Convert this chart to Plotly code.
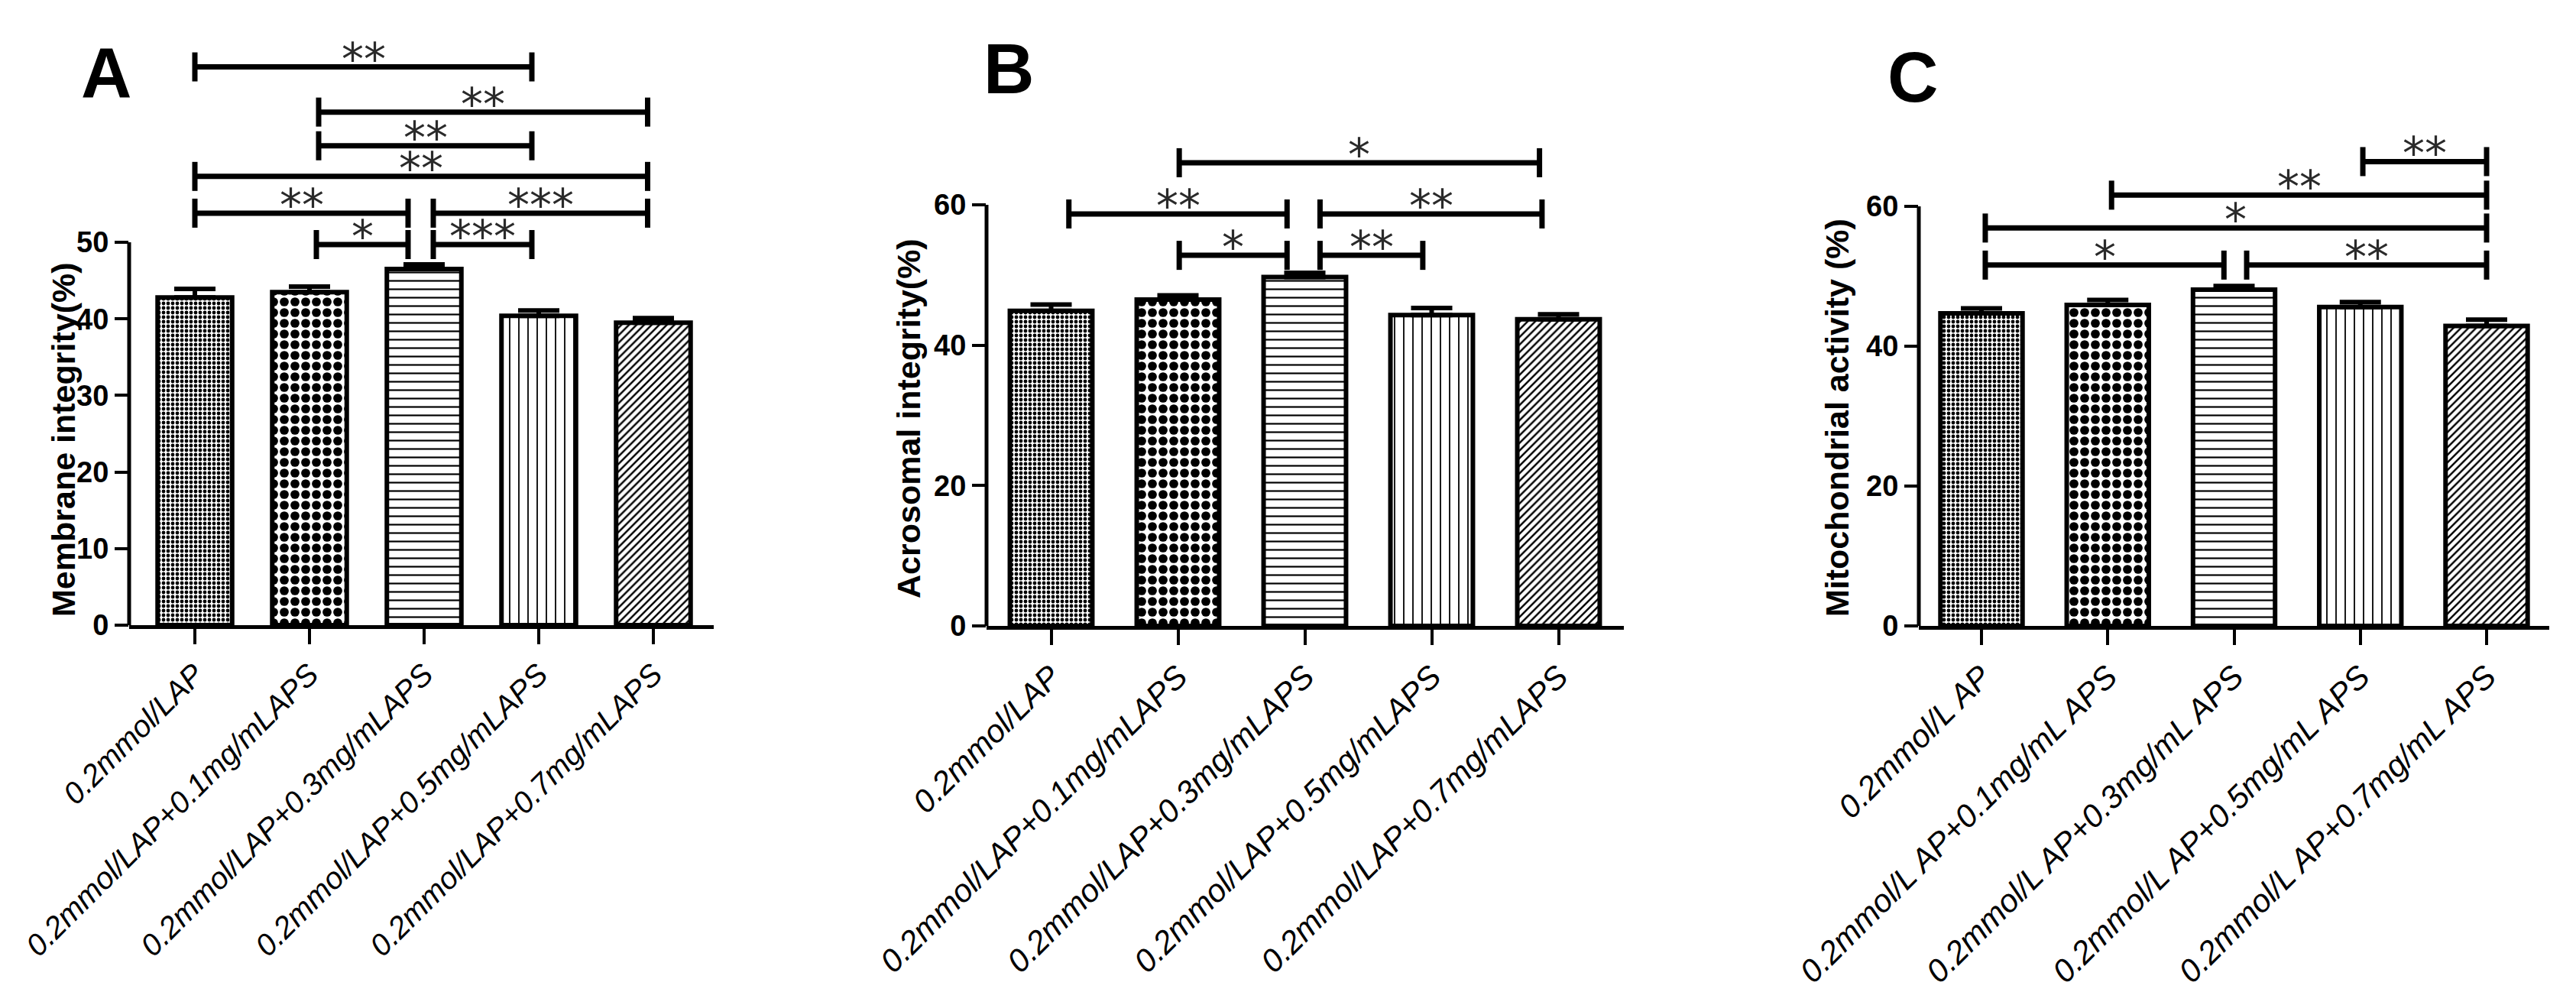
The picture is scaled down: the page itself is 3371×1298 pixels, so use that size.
import plotly.graph_objects as go

# ---------------- data ----------------
labels_A = ["0.2mmol/LAP", "0.2mmol/LAP+0.1mg/mLAPS", "0.2mmol/LAP+0.3mg/mLAPS",
            "0.2mmol/LAP+0.5mg/mLAPS", "0.2mmol/LAP+0.7mg/mLAPS"]
labels_B = ["0.2mmol/LAP", "0.2mmol/LAP+0.1mg/mLAPS", "0.2mmol/LAP+0.3mg/mLAPS",
            "0.2mmol/LAP+0.5mg/mLAPS", "0.2mmol/LAP+0.7mg/mLAPS"]
labels_C = ["0.2mmol/L AP", "0.2mmol/L AP+0.1mg/mL APS", "0.2mmol/L AP+0.3mg/mL APS",
            "0.2mmol/L AP+0.5mg/mL APS", "0.2mmol/L AP+0.7mg/mL APS"]

mean_A = [42.8, 43.5, 46.5, 40.4, 39.5]
sem_A = [1.1, 0.7, 0.6, 0.7, 0.6]
mean_B = [44.9, 46.5, 49.7, 44.3, 43.7]
sem_B = [0.9, 0.6, 0.6, 1.0, 0.7]
mean_C = [44.7, 45.9, 48.1, 45.6, 42.9]
sem_C = [0.7, 0.7, 0.5, 0.7, 0.9]

yticks_A = [0, 10, 20, 30, 40, 50]
yticks_B = [0, 20, 40, 60]
yticks_C = [0, 20, 40, 60]

titles = ["Membrane integrity(%)", "Acrosomal integrity(%)", "Mitochondrial activity (%)"]
panel_letters = ["A", "B", "C"]

# significance comparisons: (from group, to group, level, label)
sig_A = [(0.00, 2.94, 72.9, "**"), (1.08, 3.95, 67.0, "**"), (1.08, 2.94, 62.6, "**"),
         (0.00, 3.95, 58.6, "**"), (0.00, 1.86, 53.8, "**"), (2.08, 3.95, 53.8, "***"),
         (1.06, 1.86, 49.7, "*"), (2.08, 2.94, 49.7, "***")]
sig_B = [(1.01, 3.85, 66.0, "*"), (0.14, 1.86, 58.7, "**"), (2.12, 3.87, 58.7, "**"),
         (1.01, 1.86, 52.8, "*"), (2.12, 2.93, 52.8, "**")]
sig_C = [(3.02, 4.00, 66.4, "**"), (1.03, 4.00, 61.6, "**"), (0.03, 4.00, 56.9, "*"),
         (0.03, 1.92, 51.6, "*"), (2.10, 4.00, 51.6, "**")]

# ---------------- layout geometry (pixels) ----------------
W, H = 3371, 1298
TOP = 10
geo = [
    dict(xl=169, xr=934, i0=255, step=150.0, py0=818, ptop=317, vtop=50,
         title_xy=(83, 575), letter_xy=(139, 95), xfont=40),
    dict(xl=1291, xr=2125, i0=1375.5, step=166.0, py0=819, ptop=268, vtop=60,
         title_xy=(1189, 548), letter_xy=(1320, 90), xfont=42),
    dict(xl=2511, xr=3336, i0=2593, step=165.25, py0=819, ptop=270, vtop=60,
         title_xy=(2404, 547), letter_xy=(2503, 101), xfont=42),
]

means = [mean_A, mean_B, mean_C]
sems = [sem_A, sem_B, sem_C]
labels = [labels_A, labels_B, labels_C]
yticks = [yticks_A, yticks_B, yticks_C]
sigs = [sig_A, sig_B, sig_C]

FONT = "Liberation Sans, Arial, sans-serif"
NARROW = "Liberation Sans Narrow, Arial Narrow, Liberation Sans, Arial, sans-serif"
STAR = "DejaVu Sans, Liberation Sans, sans-serif"

pattern_shapes = [".", ".", "-", "|", "/"]
pattern_sizes = [6, 14, 11, 12, 7]
pattern_solid = [0.5, 0.55, 0.2, 0.15, 0.35]

fig = go.Figure()
shapes = []
annotations = []

for k in range(3):
    g = geo[k]
    n = "" if k == 0 else str(k + 1)
    xa, ya = "x" + n, "y" + n
    cats = list(range(len(means[k])))
    fig.add_trace(go.Bar(
        x=cats, y=means[k], width=0.65,
        xaxis=xa, yaxis=ya,
        marker=dict(color="white",
                    line=dict(color="black", width=6),
                    pattern=dict(shape=pattern_shapes, size=pattern_sizes,
                                 solidity=pattern_solid, fgcolor="black",
                                 bgcolor="white", fillmode="replace")),
        error_y=dict(type="data", symmetric=False, array=sems[k],
                     arrayminus=[0] * len(sems[k]), thickness=6, width=27,
                     color="black"),
        showlegend=False, hoverinfo="skip",
    ))
    pxu = (g["py0"] - g["ptop"]) / g["vtop"]
    ymax = (g["py0"] - TOP) / pxu
    xlo = (g["xl"] - g["i0"]) / g["step"]
    xhi = (g["xr"] - g["i0"]) / g["step"]
    xkey = "xaxis" + n
    ykey = "yaxis" + n
    fig.update_layout(**{
        xkey: dict(domain=[g["xl"] / W, g["xr"] / W], range=[xlo, xhi],
                   anchor=ya, showline=True, linewidth=5, linecolor="black",
                   ticks="outside", ticklen=20, tickwidth=4, tickcolor="black",
                   tickvals=cats, ticktext=labels[k], tickangle=-45,
                   tickfont=dict(family=FONT, size=g["xfont"], style="italic",
                                 color="black"),
                   showgrid=False, zeroline=False, fixedrange=True, automargin=False),
        ykey: dict(domain=[1 - g["py0"] / H, 1 - TOP / H], range=[0, ymax],
                   anchor=xa, showline=False, ticks="outside", ticklen=18,
                   tickwidth=4, tickcolor="black", tickvals=yticks[k],
                   tickfont=dict(family=NARROW, size=38, weight="bold", color="black"),
                   showgrid=False, zeroline=False, fixedrange=True, automargin=False),
    })
    # y axis line only up to the last tick
    shapes.append(dict(type="line", xref=xa + " domain", yref=ya, x0=0, x1=0,
                       y0=0, y1=yticks[k][-1], line=dict(color="black", width=5)))
    # significance brackets
    for (a, b, lvl, lab) in sigs[k]:
        shapes.append(dict(type="line", xref=xa, yref=ya, x0=a, x1=b, y0=lvl, y1=lvl,
                           line=dict(color="black", width=7)))
        for xe in (a, b):
            shapes.append(dict(type="line", xref=xa, yref=ya, x0=xe, x1=xe,
                               ysizemode="pixel", yanchor=lvl, y0=-19, y1=19,
                               line=dict(color="black", width=7)))
        annotations.append(dict(xref=xa, yref=ya, x=(a + b) / 2, y=lvl, text=lab,
                                showarrow=False, yanchor="bottom", yshift=-26,
                                font=dict(family=STAR, size=58, color="#2a2a2a")))
    # y-axis title
    tx, ty = g["title_xy"]
    annotations.append(dict(xref="paper", yref="paper", x=tx / W, y=1 - ty / H,
                            text=titles[k], textangle=-90, showarrow=False,
                            xanchor="center", yanchor="middle",
                            font=dict(family=FONT, size=43, weight="bold", color="black")))
    lx, ly = g["letter_xy"]
    annotations.append(dict(xref="paper", yref="paper", x=lx / W, y=1 - ly / H,
                            text=panel_letters[k], showarrow=False,
                            xanchor="center", yanchor="middle",
                            font=dict(family=FONT, size=92, weight="bold", color="black")))

fig.update_layout(width=W, height=H, margin=dict(l=0, r=0, t=0, b=0, autoexpand=False),
                  paper_bgcolor="white", plot_bgcolor="white",
                  shapes=shapes, annotations=annotations, showlegend=False)

fig.write_html("out.html")
